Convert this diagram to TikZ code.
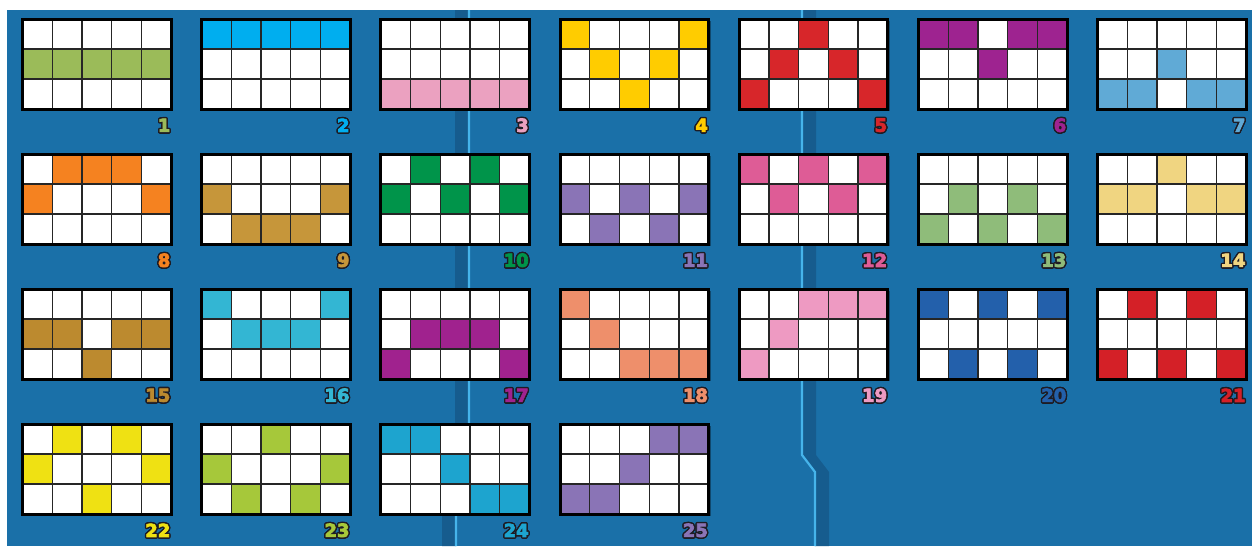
\documentclass[tikz,border=0pt]{standalone}
\usepackage{fontspec}
\setmainfont{DejaVu Sans}
\newfontfamily\numfont{DejaVu Sans}[BoldFont={DejaVu Sans Bold}, BoldFeatures={FakeBold=4}]
\usepackage[copies]{contour}
\usepackage{tikz}
\usetikzlibrary{positioning}
\contourlength{1.4pt}
\contournumber{16}

\definecolor{bgblue}{RGB}{26,112,168}
\definecolor{bgdark}{RGB}{22,92,142}
\definecolor{panelline}{RGB}{70,180,235}
\definecolor{numedge}{RGB}{30,28,36}
\definecolor{pla}{RGB}{155,187,89}
\definecolor{plb}{RGB}{0,174,239}
\definecolor{plc}{RGB}{235,161,192}
\definecolor{pld}{RGB}{255,204,0}
\definecolor{ple}{RGB}{215,38,42}
\definecolor{plf}{RGB}{158,35,144}
\definecolor{plg}{RGB}{96,170,214}
\definecolor{plh}{RGB}{245,130,32}
\definecolor{pli}{RGB}{198,150,58}
\definecolor{plj}{RGB}{0,148,74}
\definecolor{plk}{RGB}{138,116,182}
\definecolor{pll}{RGB}{222,92,150}
\definecolor{plm}{RGB}{143,188,122}
\definecolor{pln}{RGB}{240,213,129}
\definecolor{plo}{RGB}{188,138,47}
\definecolor{plp}{RGB}{51,182,211}
\definecolor{plq}{RGB}{160,34,142}
\definecolor{plr}{RGB}{238,143,107}
\definecolor{pls}{RGB}{238,154,194}
\definecolor{plt}{RGB}{35,96,171}
\definecolor{plu}{RGB}{212,32,39}
\definecolor{plv}{RGB}{239,225,19}
\definecolor{plw}{RGB}{166,200,58}
\definecolor{plx}{RGB}{29,164,207}
\definecolor{ply}{RGB}{138,116,182}

% #1 number, #2 column, #3 row, #4 colour, #5-#9 lit row on each reel
\newcommand{\payline}[9]{%
  \begin{scope}[shift={(22.5+179.2*#2,19+135*#3)}]
    \fill[black, opacity=0.35] (2,2) rectangle (150.5,92);
    \fill[white] (0,0) rectangle (148.5,90);
    \foreach \k/\r in {1/#5,2/#6,3/#7,4/#8,5/#9}
      \fill[#4] ({29.7*(\k-1)},{30*(\r-1)}) rectangle ++(29.7,30);
    \foreach \k in {1,...,4}
      \draw[gridline] ({29.7*\k},0) -- ({29.7*\k},90);
    \foreach \r in {1,2}
      \draw[gridline] (0,{30*\r}) -- (148.5,{30*\r});
    \draw[gridframe] (0,0) rectangle (148.5,90);
    \node[numlabel, text=#4] (num#1) at (148,107) {\contour{numedge}{#1}};
  \end{scope}}

\begin{document}
\begin{tikzpicture}[
  x=1pt, y=-1pt,
  gridline/.style={draw=black!85, line width=1.3pt},
  gridframe/.style={draw=black, line width=3pt},
  numlabel/.style={anchor=east, inner sep=0pt, font=\fontsize{18}{18}\selectfont\numfont\bfseries},
  panel/.style={draw=panelline, line width=2.2pt},
]
  \useasboundingbox (0,0) rectangle (1252,546);
  \fill[bgblue] (7,10) rectangle (1252,546);

  % panels behind the grids
  \fill[bgdark] (455,10) -- (469,10) -- (469,425) -- (456,445) -- (456,546) -- (442,546) -- (442,445) -- (455,425) -- cycle;
  \fill[bgdark] (802,10) -- (816,10) -- (816,455) -- (829,472) -- (829,546) -- (815,546) -- (815,472) -- (802,455) -- cycle;
  \draw[panel] (469,10) -- (469,425) -- (456,445) -- (456,546);
  \draw[panel] (802,10) -- (802,455) -- (815,472) -- (815,546);

  \payline{1}{0}{0}{pla}{2}{2}{2}{2}{2}
  \payline{2}{1}{0}{plb}{1}{1}{1}{1}{1}
  \payline{3}{2}{0}{plc}{3}{3}{3}{3}{3}
  \payline{4}{3}{0}{pld}{1}{2}{3}{2}{1}
  \payline{5}{4}{0}{ple}{3}{2}{1}{2}{3}
  \payline{6}{5}{0}{plf}{1}{1}{2}{1}{1}
  \payline{7}{6}{0}{plg}{3}{3}{2}{3}{3}

  \payline{8}{0}{1}{plh}{2}{1}{1}{1}{2}
  \payline{9}{1}{1}{pli}{2}{3}{3}{3}{2}
  \payline{10}{2}{1}{plj}{2}{1}{2}{1}{2}
  \payline{11}{3}{1}{plk}{2}{3}{2}{3}{2}
  \payline{12}{4}{1}{pll}{1}{2}{1}{2}{1}
  \payline{13}{5}{1}{plm}{3}{2}{3}{2}{3}
  \payline{14}{6}{1}{pln}{2}{2}{1}{2}{2}

  \payline{15}{0}{2}{plo}{2}{2}{3}{2}{2}
  \payline{16}{1}{2}{plp}{1}{2}{2}{2}{1}
  \payline{17}{2}{2}{plq}{3}{2}{2}{2}{3}
  \payline{18}{3}{2}{plr}{1}{2}{3}{3}{3}
  \payline{19}{4}{2}{pls}{3}{2}{1}{1}{1}
  \payline{20}{5}{2}{plt}{1}{3}{1}{3}{1}
  \payline{21}{6}{2}{plu}{3}{1}{3}{1}{3}

  \payline{22}{0}{3}{plv}{2}{1}{3}{1}{2}
  \payline{23}{1}{3}{plw}{2}{3}{1}{3}{2}
  \payline{24}{2}{3}{plx}{1}{1}{2}{3}{3}
  \payline{25}{3}{3}{ply}{3}{3}{2}{1}{1}
\end{tikzpicture}
\end{document}
